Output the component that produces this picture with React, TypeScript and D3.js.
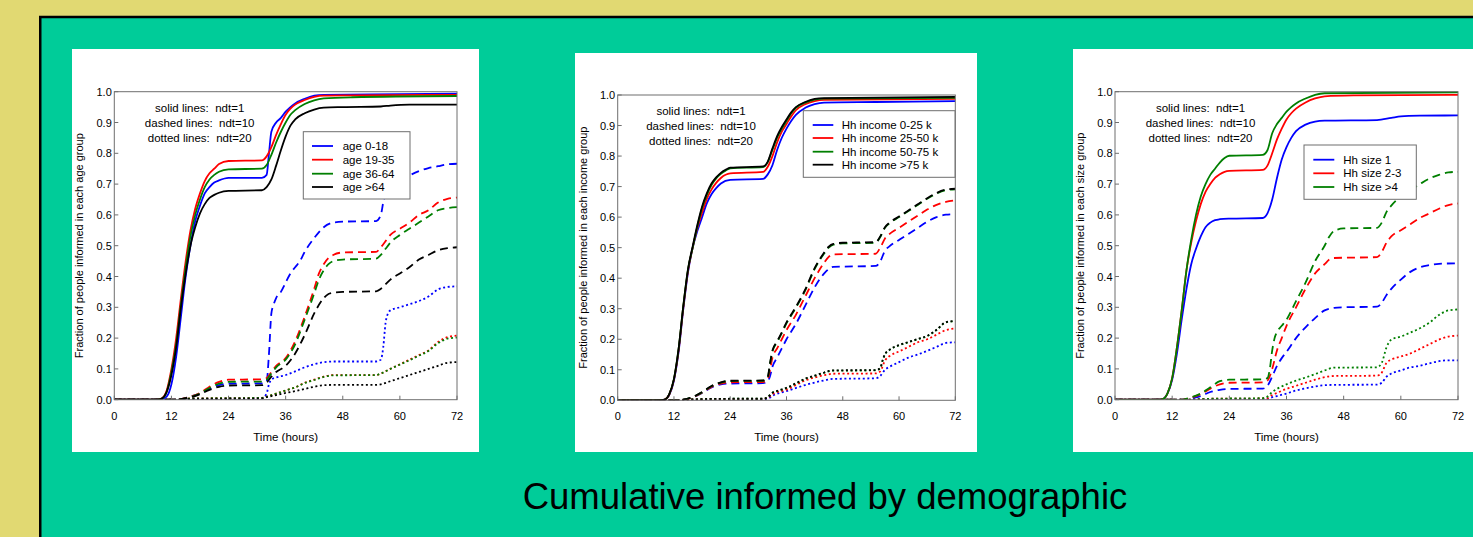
import React from 'react';
import * as d3 from 'd3';

type Pt = [number, number];

// ---------- shared labels ----------
const xTicks = [0, 12, 24, 36, 48, 60, 72];
const yTicks = [0, 0.1, 0.2, 0.3, 0.4, 0.5, 0.6, 0.7, 0.8, 0.9, 1.0];
const annotationLines = ['solid lines:\u00a0 ndt=1', 'dashed lines:\u00a0 ndt=10', 'dotted lines:\u00a0 ndt=20'];
const xLabel = 'Time (hours)';
const title = 'Cumulative informed by demographic';
const seriesColors = ['#0000ff', '#ff0000', '#007f00', '#000000'];

// ---------- panel 1 : age ----------
const ageLabels = ['age 0-18', 'age 19-35', 'age 36-64', 'age >64'];
const ageYLabel = 'Fraction of people informed in each age group';

const age0_18Solid: Pt[] = [[0,0],[9,0],[10,0.002],[11,0.01],[12,0.05],[13,0.14],[14,0.27],[15,0.4],[16,0.5],[17,0.58],[18,0.63],[19,0.67],[20,0.69],[21,0.705],[22,0.712],[24,0.72],[31,0.72],[32,0.73],[32.5,0.8],[33,0.87],[34,0.9],[35,0.915],[36,0.935],[37,0.95],[38,0.962],[40,0.977],[42,0.987],[44,0.99],[60,0.992],[72,0.994]];
const age19_35Solid: Pt[] = [[0,0],[9,0],[10,0.005],[11,0.03],[12,0.1],[13,0.2],[14,0.33],[15,0.45],[16,0.55],[17,0.62],[18,0.67],[19,0.71],[20,0.735],[21,0.75],[22,0.765],[24,0.775],[31,0.777],[32,0.79],[33,0.82],[34,0.86],[35,0.895],[36,0.925],[37,0.945],[38,0.958],[40,0.973],[42,0.983],[44,0.987],[50,0.988],[72,0.99]];
const age36_64Solid: Pt[] = [[0,0],[9,0],[10,0.004],[11,0.025],[12,0.09],[13,0.18],[14,0.31],[15,0.43],[16,0.53],[17,0.6],[18,0.65],[19,0.69],[20,0.715],[21,0.73],[22,0.74],[24,0.748],[31,0.75],[32,0.762],[33,0.795],[34,0.835],[35,0.87],[36,0.9],[37,0.925],[38,0.94],[40,0.96],[42,0.972],[44,0.978],[50,0.982],[72,0.986]];
const age64Solid: Pt[] = [[0,0],[9,0],[10,0.004],[11,0.025],[12,0.08],[13,0.17],[14,0.3],[15,0.41],[16,0.5],[17,0.56],[18,0.605],[19,0.635],[20,0.655],[21,0.665],[22,0.672],[24,0.678],[31,0.68],[32,0.69],[33,0.715],[34,0.76],[35,0.81],[36,0.855],[37,0.89],[38,0.91],[40,0.93],[42,0.942],[44,0.948],[48,0.95],[56,0.952],[58,0.955],[62,0.958],[72,0.958]];

const age0_18Dash: Pt[] = [[0,0],[13,0],[14,0.002],[16,0.01],[18,0.02],[20,0.035],[22,0.047],[24,0.052],[31,0.053],[32,0.06],[32.5,0.15],[33,0.28],[33.5,0.31],[34,0.33],[35,0.35],[36,0.38],[37,0.41],[38,0.43],[39,0.45],[40,0.48],[42,0.525],[44,0.56],[46,0.575],[48,0.578],[55,0.58],[56,0.6],[56.5,0.64],[57,0.67],[58,0.69],[60,0.71],[62,0.728],[64,0.742],[66,0.752],[68,0.758],[70,0.764],[72,0.766]];
const age19_35Dash: Pt[] = [[0,0],[13,0],[14,0.002],[16,0.01],[18,0.022],[20,0.042],[22,0.058],[24,0.065],[31,0.066],[32,0.07],[33,0.09],[34,0.11],[36,0.135],[38,0.19],[40,0.27],[42,0.36],[43,0.41],[44,0.44],[45,0.46],[46,0.47],[48,0.478],[55,0.48],[56,0.495],[57,0.515],[58,0.535],[60,0.555],[62,0.575],[64,0.6],[66,0.615],[68,0.64],[70,0.652],[72,0.656]];
const age36_64Dash: Pt[] = [[0,0],[13,0],[14,0.002],[16,0.009],[18,0.02],[20,0.038],[22,0.052],[24,0.058],[31,0.059],[32,0.065],[33,0.085],[34,0.105],[36,0.13],[38,0.18],[40,0.26],[42,0.345],[43,0.39],[44,0.42],[45,0.44],[46,0.45],[48,0.455],[55,0.458],[56,0.47],[57,0.49],[58,0.51],[60,0.535],[62,0.555],[64,0.575],[66,0.595],[68,0.615],[70,0.622],[72,0.625]];
const age64Dash: Pt[] = [[0,0],[13,0],[14,0.002],[16,0.008],[18,0.018],[20,0.032],[22,0.042],[24,0.046],[31,0.047],[32,0.055],[33,0.075],[34,0.09],[36,0.11],[38,0.15],[40,0.21],[42,0.28],[44,0.33],[45,0.343],[46,0.347],[48,0.35],[55,0.352],[56,0.36],[57,0.375],[58,0.39],[60,0.41],[62,0.43],[64,0.455],[66,0.47],[68,0.485],[70,0.492],[72,0.495]];

const age0_18Dot: Pt[] = [[0,0],[14,0],[16,0.003],[24,0.004],[31,0.005],[32,0.02],[32.5,0.05],[33,0.065],[34,0.072],[36,0.08],[38,0.092],[40,0.105],[42,0.115],[44,0.122],[46,0.124],[55,0.124],[56,0.13],[56.5,0.17],[57,0.25],[57.5,0.28],[58,0.29],[60,0.3],[62,0.31],[64,0.32],[66,0.335],[68,0.358],[70,0.366],[72,0.368]];
const age19_35Dot: Pt[] = [[0,0],[14,0],[16,0.004],[24,0.005],[31,0.006],[32,0.01],[34,0.02],[36,0.03],[38,0.04],[40,0.055],[42,0.065],[44,0.075],[46,0.08],[55,0.08],[56,0.085],[58,0.1],[60,0.115],[62,0.13],[64,0.145],[66,0.16],[68,0.187],[70,0.203],[72,0.208]];
const age36_64Dot: Pt[] = [[0,0],[14,0],[16,0.004],[24,0.005],[31,0.006],[32,0.01],[34,0.02],[36,0.03],[38,0.04],[40,0.054],[42,0.064],[44,0.074],[46,0.079],[55,0.08],[56,0.085],[58,0.1],[60,0.114],[62,0.128],[64,0.143],[66,0.158],[68,0.183],[70,0.198],[72,0.202]];
const age64Dot: Pt[] = [[0,0],[14,0],[16,0.002],[24,0.003],[31,0.004],[32,0.008],[34,0.015],[36,0.022],[38,0.028],[40,0.035],[42,0.042],[44,0.047],[46,0.048],[55,0.048],[56,0.05],[58,0.06],[60,0.07],[62,0.08],[64,0.09],[66,0.1],[68,0.11],[70,0.12],[72,0.122]];

// ---------- panel 2 : income ----------
const incomeLabels = ['Hh income 0-25 k', 'Hh income 25-50 k', 'Hh income 50-75 k', 'Hh income >75 k'];
const incomeYLabel = 'Fraction of people informed in each income group';

const inc0_25Solid: Pt[] = [[0,0],[9,0],[10,0.002],[11,0.018],[12,0.065],[13,0.16],[14,0.3],[15,0.42],[16,0.5],[17,0.555],[18,0.6],[19,0.645],[20,0.675],[21,0.695],[22,0.71],[24,0.722],[31,0.725],[32,0.74],[33,0.77],[34,0.82],[35,0.86],[36,0.89],[37,0.915],[38,0.935],[40,0.958],[42,0.97],[44,0.975],[55,0.977],[72,0.98]];
const inc25_50Solid: Pt[] = [[0,0],[9,0],[10,0.002],[11,0.019],[12,0.068],[13,0.165],[14,0.305],[15,0.425],[16,0.5],[17,0.565],[18,0.615],[19,0.66],[20,0.69],[21,0.712],[22,0.728],[24,0.743],[31,0.748],[32,0.765],[33,0.8],[34,0.845],[35,0.88],[36,0.905],[37,0.93],[38,0.95],[40,0.97],[42,0.98],[44,0.984],[72,0.987]];
const inc50_75Solid: Pt[] = [[0,0],[9,0],[10,0.002],[11,0.02],[12,0.07],[13,0.17],[14,0.31],[15,0.43],[16,0.5],[17,0.57],[18,0.63],[19,0.672],[20,0.705],[21,0.727],[22,0.742],[23,0.752],[24,0.76],[31,0.764],[32,0.78],[33,0.82],[34,0.86],[35,0.89],[36,0.915],[37,0.94],[38,0.958],[40,0.975],[42,0.985],[44,0.988],[72,0.991]];
const inc75Solid: Pt[] = [[0,0],[9,0],[10,0.002],[11,0.02],[12,0.07],[13,0.17],[14,0.31],[15,0.43],[16,0.505],[17,0.575],[18,0.635],[19,0.678],[20,0.71],[21,0.73],[22,0.745],[23,0.755],[24,0.762],[31,0.766],[32,0.782],[33,0.825],[34,0.865],[35,0.895],[36,0.92],[37,0.943],[38,0.96],[40,0.977],[42,0.987],[44,0.99],[72,0.994]];

const inc0_25Dash: Pt[] = [[0,0],[13,0],[14,0.002],[16,0.01],[18,0.024],[20,0.042],[22,0.052],[24,0.055],[31,0.056],[32,0.062],[32.5,0.08],[33,0.11],[34,0.14],[35,0.17],[36,0.2],[38,0.25],[40,0.31],[42,0.37],[44,0.415],[45,0.43],[46,0.437],[55,0.44],[56,0.455],[57,0.49],[58,0.505],[60,0.525],[62,0.545],[64,0.565],[66,0.585],[68,0.6],[70,0.608],[72,0.61]];
const inc25_50Dash: Pt[] = [[0,0],[13,0],[14,0.002],[16,0.01],[18,0.025],[20,0.044],[22,0.055],[24,0.059],[31,0.06],[32,0.07],[32.5,0.1],[33,0.14],[34,0.17],[35,0.2],[36,0.23],[38,0.28],[40,0.34],[42,0.4],[44,0.45],[45,0.47],[46,0.478],[55,0.48],[56,0.5],[57,0.53],[58,0.545],[60,0.565],[62,0.585],[64,0.605],[66,0.625],[68,0.64],[70,0.65],[72,0.655]];
const inc50_75Dash: Pt[] = [[0,0],[13,0],[14,0.002],[16,0.011],[18,0.026],[20,0.046],[22,0.058],[24,0.063],[31,0.064],[32,0.075],[32.5,0.12],[33,0.16],[34,0.19],[35,0.22],[36,0.252],[37,0.278],[38,0.303],[40,0.36],[42,0.43],[44,0.48],[45,0.5],[46,0.51],[48,0.514],[55,0.516],[56,0.535],[57,0.565],[58,0.58],[60,0.6],[62,0.62],[64,0.64],[66,0.66],[68,0.677],[70,0.688],[72,0.691]];
const inc75Dash: Pt[] = [[0,0],[13,0],[14,0.002],[16,0.011],[18,0.027],[20,0.047],[22,0.059],[24,0.064],[31,0.065],[32,0.077],[32.5,0.123],[33,0.163],[34,0.193],[35,0.223],[36,0.255],[37,0.281],[38,0.306],[40,0.363],[42,0.433],[44,0.483],[45,0.503],[46,0.512],[48,0.516],[55,0.518],[56,0.537],[57,0.567],[58,0.582],[60,0.602],[62,0.622],[64,0.642],[66,0.662],[68,0.679],[70,0.69],[72,0.693]];

const inc0_25Dot: Pt[] = [[0,0],[14,0],[16,0.002],[24,0.003],[31,0.004],[32,0.005],[33,0.015],[36,0.03],[40,0.05],[44,0.065],[46,0.07],[55,0.072],[56,0.08],[57,0.1],[58,0.11],[60,0.125],[62,0.14],[64,0.15],[66,0.162],[68,0.175],[70,0.188],[72,0.19]];
const inc25_50Dot: Pt[] = [[0,0],[14,0],[16,0.003],[24,0.004],[31,0.005],[32,0.008],[33,0.02],[36,0.035],[40,0.065],[44,0.082],[46,0.087],[55,0.088],[56,0.095],[57,0.13],[58,0.145],[60,0.16],[62,0.175],[64,0.19],[66,0.2],[68,0.215],[70,0.23],[72,0.235]];
const inc50_75Dot: Pt[] = [[0,0],[14,0],[16,0.003],[24,0.005],[31,0.005],[32,0.01],[33,0.025],[34,0.03],[36,0.04],[38,0.055],[40,0.07],[42,0.08],[44,0.09],[45,0.095],[46,0.097],[55,0.098],[56,0.105],[56.5,0.13],[57,0.15],[58,0.165],[60,0.18],[62,0.19],[64,0.2],[66,0.21],[68,0.23],[70,0.255],[72,0.259]];
const inc75Dot: Pt[] = [[0,0],[14,0],[16,0.003],[24,0.005],[31,0.005],[32,0.01],[33,0.025],[34,0.031],[36,0.041],[38,0.056],[40,0.071],[42,0.081],[44,0.091],[45,0.096],[46,0.098],[55,0.099],[56,0.106],[56.5,0.131],[57,0.151],[58,0.166],[60,0.181],[62,0.191],[64,0.201],[66,0.211],[68,0.231],[70,0.256],[72,0.26]];

// ---------- panel 3 : household size ----------
const sizeLabels = ['Hh size 1', 'Hh size 2-3', 'Hh size >4'];
const sizeYLabel = 'Fraction of people informed in each size group';

const size1Solid: Pt[] = [[0,0],[9,0],[10,0.002],[11,0.02],[12,0.065],[13,0.15],[14,0.26],[15,0.36],[16,0.44],[17,0.49],[18,0.53],[19,0.56],[20,0.575],[21,0.583],[22,0.586],[24,0.588],[31,0.59],[32,0.605],[33,0.65],[34,0.72],[35,0.78],[36,0.82],[37,0.85],[38,0.872],[40,0.893],[42,0.903],[44,0.906],[55,0.908],[58,0.915],[60,0.92],[64,0.922],[72,0.923]];
const size2_3Solid: Pt[] = [[0,0],[9,0],[10,0.002],[11,0.02],[12,0.07],[13,0.17],[14,0.29],[15,0.42],[16,0.51],[17,0.58],[18,0.635],[19,0.675],[20,0.7],[21,0.72],[22,0.732],[23,0.74],[24,0.743],[31,0.746],[32,0.76],[33,0.8],[34,0.845],[35,0.88],[36,0.91],[37,0.93],[38,0.945],[40,0.965],[42,0.978],[44,0.985],[50,0.988],[72,0.99]];
const size4Solid: Pt[] = [[0,0],[9,0],[10,0.002],[11,0.02],[12,0.07],[13,0.17],[14,0.29],[15,0.42],[16,0.52],[17,0.6],[18,0.66],[19,0.7],[20,0.73],[21,0.75],[22,0.77],[23,0.785],[24,0.792],[31,0.795],[32,0.81],[33,0.865],[34,0.895],[35,0.915],[36,0.935],[37,0.95],[38,0.962],[40,0.978],[42,0.99],[44,0.995],[72,0.998]];

const size1Dash: Pt[] = [[0,0],[14,0],[16,0.005],[18,0.012],[20,0.025],[22,0.032],[24,0.035],[31,0.036],[32,0.045],[33,0.075],[34,0.11],[35,0.135],[36,0.155],[38,0.2],[40,0.235],[42,0.265],[44,0.29],[46,0.298],[48,0.3],[55,0.302],[56,0.315],[57,0.34],[58,0.36],[60,0.39],[62,0.415],[64,0.43],[66,0.437],[68,0.441],[72,0.443]];
const size2_3Dash: Pt[] = [[0,0],[14,0],[16,0.007],[18,0.018],[20,0.036],[22,0.05],[24,0.055],[31,0.056],[32,0.062],[33,0.1],[34,0.16],[35,0.2],[36,0.24],[38,0.3],[40,0.36],[42,0.41],[44,0.44],[45,0.455],[46,0.46],[55,0.463],[56,0.48],[57,0.51],[58,0.53],[60,0.55],[62,0.57],[64,0.59],[66,0.605],[68,0.62],[70,0.632],[72,0.637]];
const size4Dash: Pt[] = [[0,0],[14,0],[16,0.008],[18,0.02],[20,0.04],[22,0.06],[24,0.065],[31,0.066],[32,0.07],[32.5,0.1],[33,0.16],[33.5,0.2],[34,0.22],[35,0.24],[36,0.26],[38,0.32],[40,0.38],[42,0.45],[44,0.5],[45,0.53],[46,0.548],[48,0.556],[55,0.558],[56,0.575],[57,0.61],[58,0.63],[60,0.66],[62,0.68],[64,0.7],[66,0.718],[68,0.73],[70,0.738],[72,0.74]];

const size1Dot: Pt[] = [[0,0],[14,0],[20,0.002],[31,0.003],[32,0.003],[33,0.008],[34,0.012],[36,0.02],[38,0.03],[40,0.037],[42,0.043],[44,0.047],[46,0.048],[55,0.049],[56,0.055],[57,0.075],[58,0.085],[60,0.095],[62,0.105],[64,0.11],[66,0.118],[68,0.125],[70,0.128],[72,0.128]];
const size2_3Dot: Pt[] = [[0,0],[14,0],[20,0.003],[31,0.004],[32,0.005],[33,0.015],[34,0.022],[36,0.035],[38,0.045],[40,0.055],[42,0.065],[44,0.073],[46,0.077],[55,0.078],[56,0.088],[57,0.12],[58,0.13],[60,0.14],[62,0.15],[64,0.165],[66,0.18],[68,0.195],[70,0.205],[72,0.208]];
const size4Dot: Pt[] = [[0,0],[14,0],[20,0.003],[31,0.005],[32,0.01],[33,0.025],[34,0.035],[36,0.05],[38,0.062],[40,0.072],[42,0.083],[44,0.095],[46,0.104],[55,0.105],[56,0.12],[57,0.17],[58,0.195],[60,0.205],[62,0.218],[64,0.232],[66,0.25],[68,0.275],[70,0.29],[72,0.293]];

// ---------- panel configuration ----------
interface PanelCfg {
  box: { x: number; y: number; w: number; h: number };
  plot: { l: number; r: number; t: number; b: number };
  yLabel: string;
  labels: string[];
  solid: Pt[][];
  dashed: Pt[][];
  dotted: Pt[][];
  note: { x: number; y0: number; dy: number };
  legend: { x: number; y: number; w: number; h: number; lx0: number; lx1: number; tx: number; ry: number[] };
}

const panels: PanelCfg[] = [
  {
    box: { x: 72, y: 49, w: 407, h: 403 },
    plot: { l: 114.3, r: 457, t: 91.7, b: 399.7 },
    yLabel: ageYLabel,
    labels: ageLabels,
    solid: [age0_18Solid, age19_35Solid, age36_64Solid, age64Solid],
    dashed: [age0_18Dash, age19_35Dash, age36_64Dash, age64Dash],
    dotted: [age0_18Dot, age19_35Dot, age36_64Dot, age64Dot],
    note: { x: 199.7, y0: 107.7, dy: 15.3 },
    legend: { x: 303.3, y: 131.7, w: 106.7, h: 67.3, lx0: 312, lx1: 333, tx: 342.7, ry: [146, 159.7, 173.7, 187] },
  },
  {
    box: { x: 575, y: 53, w: 402, h: 399 },
    plot: { l: 617.7, r: 955.3, t: 95, b: 400.3 },
    yLabel: incomeYLabel,
    labels: incomeLabels,
    solid: [inc0_25Solid, inc25_50Solid, inc50_75Solid, inc75Solid],
    dashed: [inc0_25Dash, inc25_50Dash, inc50_75Dash, inc75Dash],
    dotted: [inc0_25Dot, inc25_50Dot, inc50_75Dot, inc75Dot],
    note: { x: 701, y0: 111.3, dy: 15 },
    legend: { x: 803.3, y: 110.7, w: 151.7, h: 66.6, lx0: 812.7, lx1: 833.3, tx: 841.7, ry: [125, 138, 151.7, 164.7] },
  },
  {
    box: { x: 1073, y: 49, w: 420, h: 403 },
    plot: { l: 1115, r: 1458, t: 91.7, b: 399.7 },
    yLabel: sizeYLabel,
    labels: sizeLabels,
    solid: [size1Solid, size2_3Solid, size4Solid],
    dashed: [size1Dash, size2_3Dash, size4Dash],
    dotted: [size1Dot, size2_3Dot, size4Dot],
    note: { x: 1200.5, y0: 107.7, dy: 15.3 },
    legend: { x: 1304, y: 145, w: 112.3, h: 54.3, lx0: 1313.3, lx1: 1334.3, tx: 1343.3, ry: [159.7, 173.3, 187] },
  },
];

const FONT = 'Arial, "Liberation Sans", Helvetica, sans-serif';

function Panel({ cfg, idx }: { cfg: PanelCfg; idx: number }) {
  const { plot } = cfg;
  const x = d3.scaleLinear().domain([0, 72]).range([plot.l, plot.r]);
  const y = d3.scaleLinear().domain([0, 1]).range([plot.b, plot.t]);
  const line = d3
    .line<Pt>()
    .x((d) => x(d[0]))
    .y((d) => y(d[1]))
    .curve(d3.curveMonotoneX);
  const clipId = `clip${idx}`;
  const styles: { key: string; data: Pt[][]; dash?: string }[] = [
    { key: 'dot', data: cfg.dotted, dash: '2,2.6' },
    { key: 'dash', data: cfg.dashed, dash: '8,5' },
    { key: 'solid', data: cfg.solid },
  ];
  return (
    <g>
      <rect x={cfg.box.x} y={cfg.box.y} width={cfg.box.w} height={cfg.box.h} fill="#ffffff" />
      <defs>
        <clipPath id={clipId}>
          <rect x={plot.l} y={plot.t - 2} width={plot.r - plot.l} height={plot.b - plot.t + 2} />
        </clipPath>
      </defs>
      <g clipPath={`url(#${clipId})`}>
        {styles.map((s) =>
          s.data.map((d, i) => (
            <path
              key={s.key + i}
              d={line(d) || ''}
              fill="none"
              stroke={seriesColors[i]}
              strokeWidth={1.8}
              strokeDasharray={s.dash}
            />
          ))
        )}
      </g>
      <rect
        x={plot.l}
        y={plot.t}
        width={plot.r - plot.l}
        height={plot.b - plot.t}
        fill="none"
        stroke="#6e6e6e"
        strokeWidth={1}
      />
      {xTicks.map((t) => (
        <g key={'xt' + t}>
          <line x1={x(t)} x2={x(t)} y1={plot.b} y2={plot.b - 4} stroke="#6e6e6e" strokeWidth={1} />
          <text x={x(t)} y={plot.b + 16} textAnchor="middle" dominantBaseline="central" fontSize={11} fontFamily={FONT} fill="#000">
            {t}
          </text>
        </g>
      ))}
      {yTicks.map((t) => (
        <g key={'yt' + t}>
          <line x1={plot.l} x2={plot.l + 4} y1={y(t)} y2={y(t)} stroke="#6e6e6e" strokeWidth={1} />
          <text x={plot.l - 2.5} y={y(t)} textAnchor="end" dominantBaseline="central" fontSize={11} fontFamily={FONT} fill="#000">
            {d3.format('.1f')(t)}
          </text>
        </g>
      ))}
      <text
        x={(plot.l + plot.r) / 2}
        y={plot.b + 37}
        textAnchor="middle"
        dominantBaseline="central"
        fontSize={11.5}
        fontFamily={FONT}
        fill="#000"
      >
        {xLabel}
      </text>
      <text
        transform={`translate(${plot.l - 35},${(plot.t + plot.b) / 2}) rotate(-90)`}
        textAnchor="middle"
        dominantBaseline="central"
        fontSize={11}
        fontFamily={FONT}
        fill="#000"
      >
        {cfg.yLabel}
      </text>
      {annotationLines.map((s, i) => (
        <text
          key={'n' + i}
          x={cfg.note.x}
          y={cfg.note.y0 + i * cfg.note.dy}
          textAnchor="middle"
          dominantBaseline="central"
          fontSize={11.5}
          fontFamily={FONT}
          fill="#000"
        >
          {s}
        </text>
      ))}
      <rect
        x={cfg.legend.x}
        y={cfg.legend.y}
        width={cfg.legend.w}
        height={cfg.legend.h}
        fill="#ffffff"
        stroke="#6e6e6e"
        strokeWidth={1}
      />
      {cfg.labels.map((lab, i) => (
        <g key={'lg' + i}>
          <line
            x1={cfg.legend.lx0}
            x2={cfg.legend.lx1}
            y1={cfg.legend.ry[i]}
            y2={cfg.legend.ry[i]}
            stroke={seriesColors[i]}
            strokeWidth={1.8}
          />
          <text x={cfg.legend.tx} y={cfg.legend.ry[i]} dominantBaseline="central" fontSize={11.5} fontFamily={FONT} fill="#000">
            {lab}
          </text>
        </g>
      ))}
    </g>
  );
}

export default function App() {
  return (
    <svg
      width={1473}
      height={537}
      style={{ position: 'absolute', left: 0, top: 0, display: 'block' }}
      xmlns="http://www.w3.org/2000/svg"
    >
      <rect x={0} y={0} width={1473} height={537} fill="#e1d972" />
      <rect x={40.25} y={17} width={1500} height={600} fill="#00cc99" stroke="#000" strokeWidth={2.5} />
      {panels.map((p, i) => (
        <Panel key={i} cfg={p} idx={i} />
      ))}
      <text x={825} y={509} textAnchor="middle" fontSize={36.5} fontFamily={FONT} fill="#000">
        {title}
      </text>
    </svg>
  );
}
